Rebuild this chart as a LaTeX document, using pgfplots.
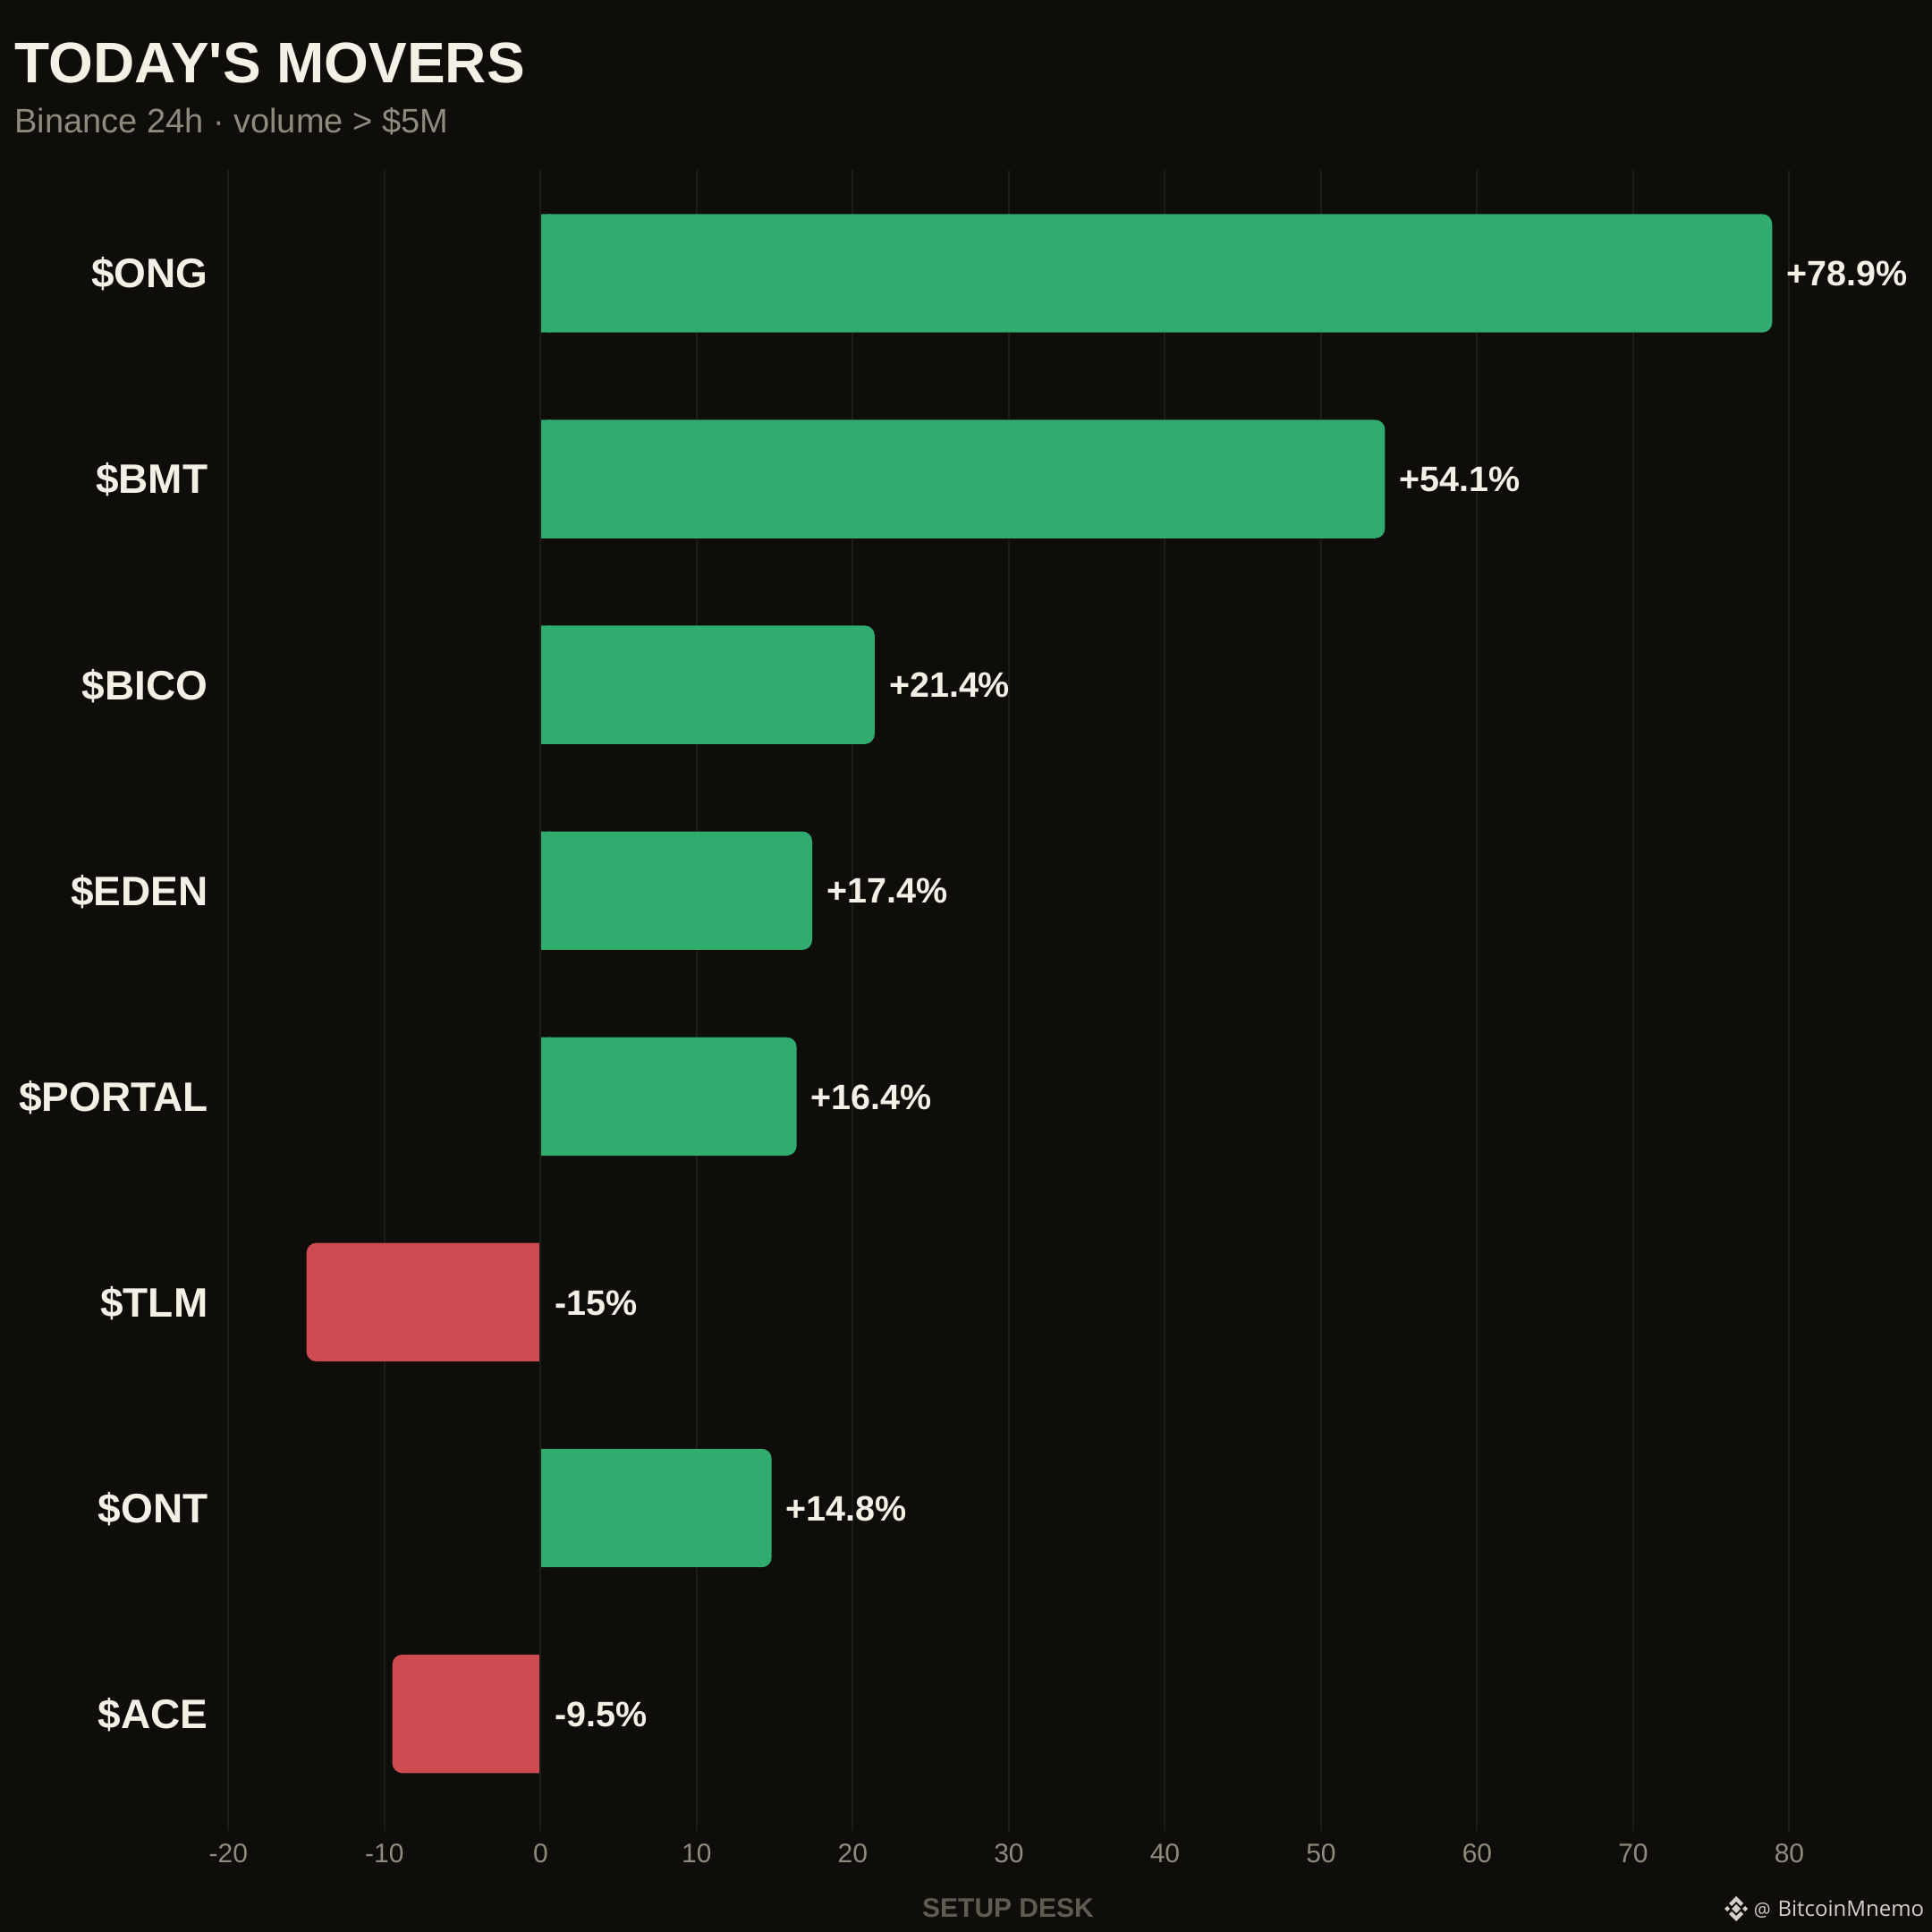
\documentclass[border=0pt]{standalone}
\usepackage{fontspec}
\setmainfont{Liberation Sans}
\newfontfamily\markfont{Open Sans}
\usepackage{pgfplots}
\pgfplotsset{compat=1.18}
\definecolor{bg}{HTML}{0E0D0A}
\definecolor{cream}{HTML}{F5F0E6}
\definecolor{muted}{HTML}{8E8B7E}
\definecolor{faint}{HTML}{5E5C50}
\definecolor{gridc}{HTML}{1C1C19}
\definecolor{up}{HTML}{2FAC6E}
\definecolor{down}{HTML}{CE4C51}
\definecolor{wm}{HTML}{D5D1C6}
\newcommand{\fs}[1]{\fontsize{#1}{#1}\selectfont}
\begin{document}
\begin{tikzpicture}
  \fill[bg] (0,0) rectangle (1080pt,1080pt);
  \begin{axis}[
      at={(127.7pt,56.5pt)},anchor=south west,
      scale only axis,width=951.05pt,height=928.5pt,
      xmin=-20,xmax=89,ymin=-0.569,ymax=7.502,
      axis line style={draw=none},
      major tick length=0pt,
      xtick={-20,-10,0,10,20,30,40,50,60,70,80},
      ytick={0,1,2,3,4,5,6,7},
      yticklabels={\$ACE,\$ONT,\$TLM,\$PORTAL,\$EDEN,\$BICO,\$BMT,\$ONG},
      xmajorgrids,
      grid style={gridc,line width=1pt},
      /pgf/number format/assume math mode=true,
      xticklabel style={font=\fs{15},text=muted,inner sep=0pt,anchor=base,yshift=-18pt},
      yticklabel style={font=\bfseries\fs{23},text=cream,inner sep=0pt,anchor=east,xshift=-11.3pt,yshift=-0.5pt},
      clip=false,
    ]
    % rounded bars
    \addplot[xbar,bar width=66.2pt,bar shift=0pt,fill=up,draw=none,rounded corners=5.5pt] coordinates {
      (78.9,7) (54.1,6) (21.4,5) (17.4,4) (16.4,3) (14.8,1)
    };
    \addplot[xbar,bar width=66.2pt,bar shift=0pt,fill=down,draw=none,rounded corners=5.5pt] coordinates {
      (-15,2) (-9.5,0)
    };
    % square off the end at zero
    \addplot[xbar,bar width=66.2pt,bar shift=0pt,fill=up,draw=none] coordinates {
      (0.65,7) (0.65,6) (0.65,5) (0.65,4) (0.65,3) (0.65,1)
    };
    \addplot[xbar,bar width=66.2pt,bar shift=0pt,fill=down,draw=none] coordinates {
      (-0.65,2) (-0.65,0)
    };
    \addplot[gridc,line width=1pt] coordinates {(0,-0.569) (0,7.502)};
    % value labels
    \addplot[only marks,mark=none,draw=none,point meta=explicit symbolic,
      nodes near coords,
      every node near coord/.append style={anchor=west,inner sep=0pt,xshift=7.9pt,yshift=-0.3pt,
        font=\bfseries\fs{19.75},text=cream}] coordinates {
      (78.9,7) [+78.9\%]
      (54.1,6) [+54.1\%]
      (21.4,5) [+21.4\%]
      (17.4,4) [+17.4\%]
      (16.4,3) [+16.4\%]
      (0,2) [-15\%]
      (14.8,1) [+14.8\%]
      (0,0) [-9.5\%]
    };
  \end{axis}
  % x, y in this scope are the reference's pixels
  \begin{scope}[x=0.5pt,y=-0.5pt,shift={(0pt,1080pt)}]
  \node[anchor=base west,inner sep=0pt,text=cream,font=\bfseries\fs{32}] at (16.5,93) {TODAY\textquotesingle S MOVERS};
  \node[anchor=base west,inner sep=0pt,text=muted,font=\fs{19}] at (16,149) {Binance 24h · volume > \$5M};
  \node[anchor=base,inner sep=0pt,text=faint,font=\bfseries\fs{15}] at (1127,2143) {SETUP DESK};
  \node[anchor=base east,inner sep=0pt,text=wm,font=\markfont\fs{12}] at (2151.5,2142) {BitcoinMnemo};
  \node[anchor=base west,inner sep=0pt,text=wm,font=\markfont\fs{10.5}] at (1960.5,2142) {@};
  % binance mark
  \fill[wm] (1941,2129) -- (1946,2134) -- (1941,2139) -- (1936,2134) -- cycle;
  \fill[wm] (1931,2131) -- (1934,2134) -- (1931,2137) -- (1928,2134) -- cycle;
  \fill[wm] (1951,2131) -- (1954,2134) -- (1951,2137) -- (1948,2134) -- cycle;
  \fill[wm] (1941,2120) -- (1949,2128) -- (1946,2131) -- (1941,2126) -- (1936,2131) -- (1933,2128) -- cycle;
  \fill[wm] (1941,2148) -- (1949,2140) -- (1946,2137) -- (1941,2142) -- (1936,2137) -- (1933,2140) -- cycle;
  \end{scope}
\end{tikzpicture}
\end{document}
